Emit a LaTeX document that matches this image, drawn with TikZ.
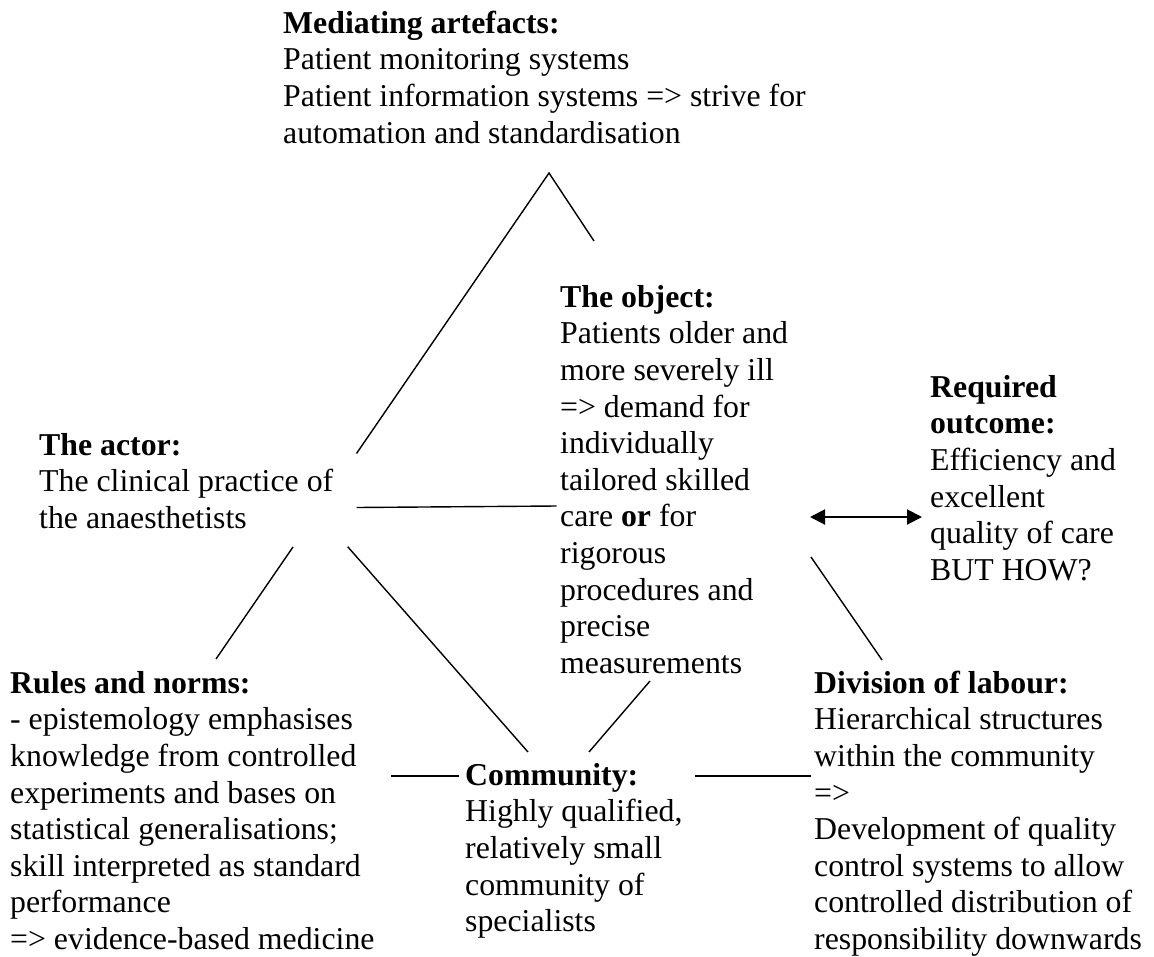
\documentclass[tikz,border=0pt]{standalone}
\usepackage{fontspec}
\setmainfont{Liberation Serif}
\usetikzlibrary{arrows.meta}
\begin{document}
\begin{tikzpicture}[x=1pt,y=-1pt,
  blk/.style={anchor=north west, inner sep=0pt, align=left,
    font=\fontsize{31.8}{36.6}\selectfont},
  link/.style={line width=1.4pt},
  twoway/.style={line width=2pt,
    {Triangle[length=15pt,width=15pt]}-{Triangle[length=15pt,width=15pt]}}]
\useasboundingbox (0,0) rectangle (1154,956);
% invisible lead rule: the first baseline sits 24pt below the node top
\newcommand\lead{\rule{0pt}{24pt}}

% text blocks of the activity system
\node[blk] (art) at (283,33-24) {\lead\textbf{Mediating artefacts:}\\
  Patient monitoring systems\\
  Patient information systems => strive for\\
  automation and standardisation};
\node[blk] (obj) at (560,307-24) {\lead\textbf{The object:}\\
  Patients older and\\ more severely ill\\ => demand for\\ individually\\
  tailored skilled\\ care \textbf{or} for\\ rigorous\\ procedures and\\
  precise\\ measurements};
\node[blk] (out) at (930,397-24) {\lead\textbf{Required}\\ \textbf{outcome:}\\
  Efficiency and\\ excellent\\ quality of care\\ BUT HOW?};
\node[blk] (act) at (39,455-24) {\lead\textbf{The actor:}\\
  The clinical practice of\\ the anaesthetists};
\node[blk] (rul) at (10,693-24) {\lead\textbf{Rules and norms:}\\
  - epistemology emphasises\\ knowledge from controlled\\
  experiments and bases on\\ statistical generalisations;\\
  skill interpreted as standard\\ performance\\ => evidence-based medicine};
\node[blk] (div) at (814,693-24) {\lead\textbf{Division of labour:}\\
  Hierarchical structures\\ within the community\\ =>\\
  Development of quality\\ control systems to allow\\
  controlled distribution of\\ responsibility downwards};
\node[blk] (com) at (465,785-24) {\lead\textbf{Community:}\\
  Highly qualified,\\ relatively small\\ community of\\ specialists};

% line ends
\coordinate (apex) at (549,173);
\coordinate (artL) at (356.5,453.5);
\coordinate (artR) at (594,241);
\coordinate (actR) at (356.5,507.5);
\coordinate (objL) at (556.5,506);
\coordinate (actLL) at (293,547);
\coordinate (rulT) at (216,659);
\coordinate (actLR) at (347.7,546.7);
\coordinate (comTL) at (528,752);
\coordinate (objB) at (650,681);
\coordinate (comTR) at (589,752);
\coordinate (objE) at (810,517);
\coordinate (outW) at (922,517);
\coordinate (objSE) at (811,557);
\coordinate (divT) at (882,660);
\coordinate (rulE) at (391,776);
\coordinate (comW) at (459,776);
\coordinate (comE) at (695,776);
\coordinate (divW) at (811,776);

% connectors
\draw[link] (artL) -- (apex) -- (artR);
\draw[link] (actR) -- (objL);
\draw[link] (actLL) -- (rulT);
\draw[link] (actLR) -- (comTL);
\draw[link] (objB) -- (comTR);
\draw[twoway] (objE) -- (outW);
\draw[link] (objSE) -- (divT);
\draw[link] (rulE) -- (comW);
\draw[link] (comE) -- (divW);
\end{tikzpicture}
\end{document}
